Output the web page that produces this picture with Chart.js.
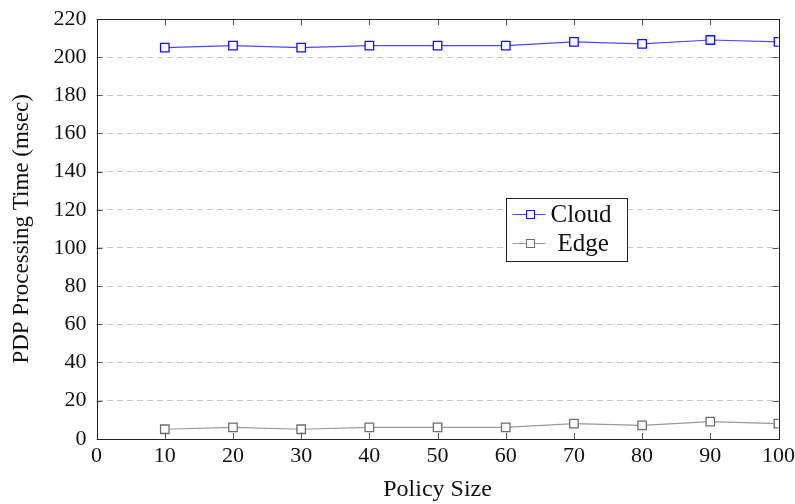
<!DOCTYPE html>
<html>
<head>
<meta charset="utf-8">
<script src="https://cdn.jsdelivr.net/npm/chart.js@4/dist/chart.umd.min.js"></script>
<style>
  html, body { margin: 0; padding: 0; background: #fff; }
  #wrap { width: 795px; height: 504px; }
</style>
</head>
<body>
<div id="wrap"><canvas id="chart" width="795" height="504"></canvas></div>
<script>
// data
const policySizes = [10, 20, 30, 40, 50, 60, 70, 80, 90, 100];
const cloudTimes = [205, 206, 205, 206, 206, 206, 208, 207, 209, 208];
const edgeTimes = [5, 6, 5, 6, 6, 6, 8, 7, 9, 8];
const seriesNames = ["Cloud", "Edge"];

const FONT = "'Liberation Serif', 'DejaVu Serif', serif";

const toPoints = (xs, ys) => xs.map((x, i) => ({ x: x, y: ys[i] }));

// frame, inward ticks and the legend box, pgfplots style
const framePlugin = {
  id: "framePlugin",
  afterDraw: (chart) => {
    const ctx = chart.ctx;
    const { left, right, top, bottom } = chart.chartArea;
    const xs = chart.scales.x;
    const ys = chart.scales.y;
    ctx.save();
    ctx.strokeStyle = "#555";
    ctx.lineWidth = 1;
    // ticks
    xs.ticks.forEach((t) => {
      const px = Math.round(xs.getPixelForValue(t.value)) + 0.5;
      ctx.beginPath();
      ctx.moveTo(px, bottom);
      ctx.lineTo(px, bottom - 6);
      ctx.moveTo(px, top);
      ctx.lineTo(px, top + 6);
      ctx.stroke();
    });
    ys.ticks.forEach((t) => {
      const py = Math.round(ys.getPixelForValue(t.value)) + 0.5;
      ctx.beginPath();
      ctx.moveTo(left, py);
      ctx.lineTo(left + 6, py);
      ctx.moveTo(right, py);
      ctx.lineTo(right - 6, py);
      ctx.stroke();
    });
    // frame
    ctx.strokeStyle = "#222";
    ctx.strokeRect(Math.round(left) + 0.5, Math.round(top) + 0.5,
      Math.round(right - left), Math.round(bottom - top));

    // legend
    const w = right - left;
    const h = bottom - top;
    const bx = Math.round(left + 0.5997 * w) + 0.5;
    const by = Math.round(top + 0.427 * h) + 0.5;
    const bw = 121, bh = 63;
    ctx.fillStyle = "#fff";
    ctx.fillRect(bx, by, bw, bh);
    ctx.strokeStyle = "#222";
    ctx.strokeRect(bx, by, bw, bh);
    chart.data.datasets.forEach((ds, i) => {
      const cy = by + 16 + i * 29;
      ctx.strokeStyle = ds.borderColor;
      ctx.beginPath();
      ctx.moveTo(bx + 6, cy);
      ctx.lineTo(bx + 39, cy);
      ctx.stroke();
      ctx.strokeStyle = ds.pointBorderColor;
      ctx.fillStyle = "#fff";
      ctx.fillRect(bx + 20, cy - 4, 8, 8);
      ctx.strokeRect(bx + 20, cy - 4, 8, 8);
      ctx.fillStyle = "#111";
      ctx.font = "25px " + FONT;
      ctx.textBaseline = "middle";
      ctx.textAlign = "left";
      ctx.fillText(ds.label, bx + (i === 0 ? 44 : 51), cy + 1);
    });
    ctx.restore();
  },
};

Chart.register(framePlugin);

new Chart(document.getElementById("chart"), {
  type: "line",
  data: {
    datasets: [
      {
        label: seriesNames[0],
        data: toPoints(policySizes, cloudTimes),
        borderColor: "#4a4aff",
        borderWidth: 1.2,
        pointStyle: "rect",
        pointRadius: 6,
        pointBorderWidth: 1.3,
        pointBorderColor: "#1010ff",
        pointBackgroundColor: "#fff",
        tension: 0,
      },
      {
        label: seriesNames[1],
        data: toPoints(policySizes, edgeTimes),
        borderColor: "#9a9a9a",
        borderWidth: 1.2,
        pointStyle: "rect",
        pointRadius: 6,
        pointBorderWidth: 1.3,
        pointBorderColor: "#6e6e6e",
        pointBackgroundColor: "#fff",
        tension: 0,
      },
    ],
  },
  options: {
    responsive: false,
    animation: false,
    layout: {
      padding: { top: 19, right: 0, left: 8, bottom: 0 },
    },
    plugins: {
      legend: { display: false },
      tooltip: { enabled: false },
    },
    scales: {
      x: {
        type: "linear",
        min: 0,
        max: 100,
        ticks: {
          stepSize: 10,
          color: "#111",
          font: { family: FONT, size: 22 },
          padding: 0,
        },
        grid: { display: false, drawTicks: true, tickLength: 4 },
        border: { display: false },
        title: {
          display: true,
          text: "Policy Size",
          color: "#111",
          font: { family: FONT, size: 24 },
          padding: { top: 6, bottom: 0 },
        },
      },
      y: {
        min: 0,
        max: 220,
        ticks: {
          stepSize: 20,
          color: "#111",
          font: { family: FONT, size: 22, lineHeight: 0.8 },
          padding: 10,
        },
        grid: {
          color: (c) => (c.tick.value === 0 || c.tick.value === 220 ? "rgba(0,0,0,0)" : "#c8c8c8"),
          drawTicks: false,
        },
        border: { display: false, dash: [6, 4] },
        title: {
          display: true,
          text: "PDP Processing Time (msec)",
          color: "#111",
          font: { family: FONT, size: 23 },
          padding: { top: 0, bottom: 8 },
        },
      },
    },
  },
});
</script>
</body>
</html>
